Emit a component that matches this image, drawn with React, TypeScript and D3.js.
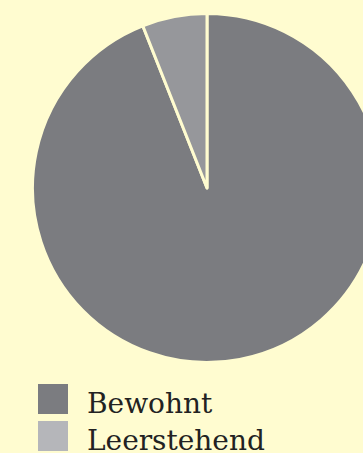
import React from "react";
import * as d3 from "d3";

const categories = ["Bewohnt", "Leerstehend"];
const values = [94, 6];
const sliceColors = ["#7b7c80", "#96979b"];
const legendColors = ["#7b7c80", "#b5b6ba"];

export default function App() {
  const W = 363, H = 453;
  const cx = 207, cy = 188, r = 174.5;
  const pie = d3.pie<number>().sort(null).startAngle(0).endAngle(2 * Math.PI);
  const arcs = pie(values);
  const arc = d3.arc<d3.PieArcDatum<number>>().innerRadius(0).outerRadius(r);
  return (
    <svg width={W} height={H} style={{ position: "absolute", left: 0, top: 0, background: "#fffcd0" }}>
      <rect width={W} height={H} fill="#fffcd0" />
      <g transform={`translate(${cx},${cy})`}>
        {arcs.map((a, i) => (
          <path key={i} d={arc(a) || ""} fill={sliceColors[i]} stroke="#fffcd0" strokeWidth={3} strokeLinejoin="round" />
        ))}
      </g>
      {categories.map((c, i) => (
        <g key={c} transform={`translate(38,${384 + i * 37})`}>
          <rect width={30} height={30} fill={legendColors[i]} />
          <text x={49} y={29} fontFamily="'DejaVu Serif', 'Liberation Serif', serif" fontSize={28} fill="#222">{c}</text>
        </g>
      ))}
    </svg>
  );
}
